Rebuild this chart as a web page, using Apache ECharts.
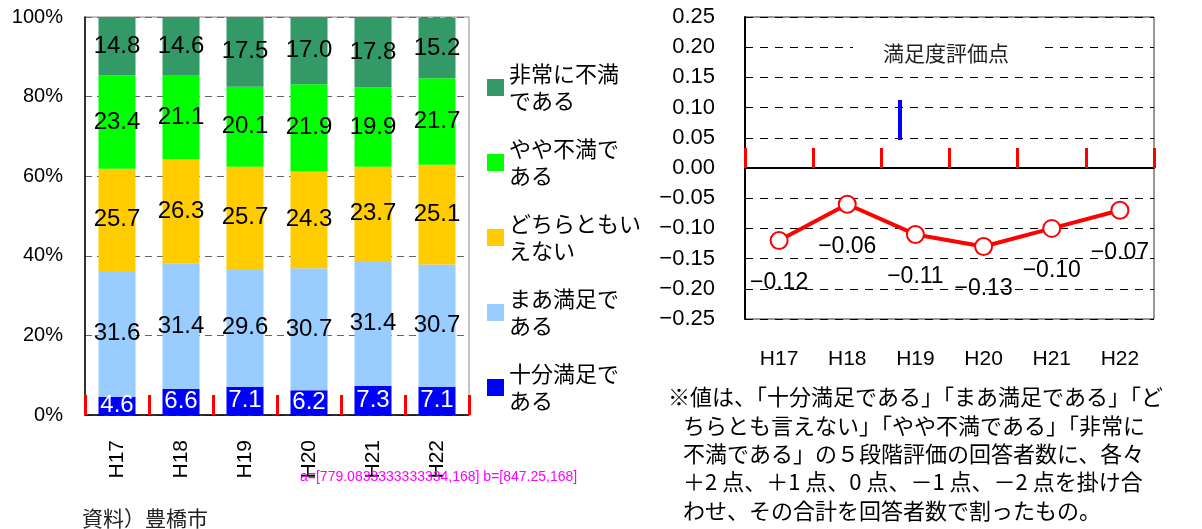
<!DOCTYPE html>
<html>
<head>
<meta charset="utf-8">
<script src="https://cdn.jsdelivr.net/npm/echarts@6/dist/echarts.min.js"></script>
<style>
  html, body { margin: 0; padding: 0; background: #fff; }
  #chart { width: 1202px; height: 529px; }
</style>
</head>
<body>
<div id="chart"></div>
<script>
// Survey years
const years = ['H17', 'H18', 'H19', 'H20', 'H21', 'H22'];

// Share of respondents (%) for each answer, per year
const fullySatisfied      = [4.6, 6.6, 7.1, 6.2, 7.3, 7.1];
const fairlySatisfied     = [31.6, 31.4, 29.6, 30.7, 31.4, 30.7];
const neutral             = [25.7, 26.3, 25.7, 24.3, 23.7, 25.1];
const somewhatUnsatisfied = [23.4, 21.1, 20.1, 21.9, 19.9, 21.7];
const veryUnsatisfied     = [14.8, 14.6, 17.5, 17.0, 17.8, 15.2];

// Satisfaction score per year
const scores = [-0.12, -0.06, -0.11, -0.13, -0.10, -0.07];

// Answer names (bottom of the stack first) and their legend wording
const answerNames = ['十分満足である', 'まあ満足である', 'どちらともいえない', 'やや不満である', '非常に不満である'];
const legendWrapped = {
  '非常に不満である': '非常に不満\nである',
  'やや不満である': 'やや不満で\nある',
  'どちらともいえない': 'どちらともい\nえない',
  'まあ満足である': 'まあ満足で\nある',
  '十分満足である': '十分満足で\nある'
};

const scoreTitle = '満足度評価点';
const sourceText = '資料）豊橋市';
const noteLines = [
  '※値は、「十分満足である」「まあ満足である」「ど',
  'ちらとも言えない」「やや不満である」「非常に',
  '不満である」の５段階評価の回答者数に、各々',
  '＋2 点、＋1 点、0 点、－1 点、－2 点を掛け合',
  'わせ、その合計を回答者数で割ったもの。'
];

const JP = "'Noto Sans CJK JP', sans-serif";
const NUM = "'Liberation Sans', 'Noto Sans CJK JP', sans-serif";

const answerValues = [fullySatisfied, fairlySatisfied, neutral, somewhatUnsatisfied, veryUnsatisfied];
const answerColors = ['#0000FF', '#99CCFF', '#FFCC00', '#00FF00', '#339966'];

function signed(v) {
  if (Math.abs(v) < 1e-9) v = 0;
  const s = Math.abs(v).toFixed(2);
  return v < 0 ? '\u2212' + s : s;
}

const barSeries = answerNames.map((name, i) => ({
  name: name,
  type: 'bar',
  stack: 'share',
  xAxisIndex: 0,
  yAxisIndex: 0,
  barWidth: 37,
  data: answerValues[i],
  itemStyle: { color: answerColors[i] },
  label: {
    show: true,
    position: 'inside',
    formatter: p => p.value.toFixed(1),
    fontSize: 24,
    fontFamily: NUM,
    color: i === 0 ? '#fff' : '#000'
  }
}));

const textGraphics = [
  {
    type: 'text', left: 82, top: 508,
    style: { text: sourceText, fontSize: 21, fontFamily: JP, fill: '#222' }
  }
].concat(noteLines.map((t, i) => ({
  type: 'text',
  left: i === 0 ? 668 : 683,
  top: 386 + i * 28.3,
  style: { text: t, fontSize: 22, fontFamily: JP, fill: '#000' }
})));

const chart = echarts.init(document.getElementById('chart'), null, { renderer: 'canvas' });
chart.setOption({
  animation: false,
  backgroundColor: '#fff',
  title: {
    text: scoreTitle,
    left: 853,
    top: 38,
    padding: [3, 30],
    backgroundColor: '#fff',
    textStyle: { fontSize: 21, fontWeight: 'normal', fontFamily: JP, color: '#222', lineHeight: 24 }
  },
  legend: {
    orient: 'vertical',
    left: 482,
    top: 42,
    itemWidth: 17,
    itemHeight: 17,
    itemGap: -6,
    icon: 'rect',
    selectedMode: false,
    data: answerNames.slice().reverse(),
    formatter: n => legendWrapped[n],
    textStyle: { fontSize: 22, lineHeight: 27, padding: [27, 0, 0, 0], fontFamily: JP, color: '#000' }
  },
  grid: [
    { left: 85, top: 17, width: 384, height: 398, show: true, borderColor: '#888', borderWidth: 1 },
    { left: 745, top: 17, width: 409, height: 302, show: true, borderColor: '#333', borderWidth: 1 }
  ],
  xAxis: [
    {
      gridIndex: 0, type: 'category', data: years,
      axisLine: { show: true, lineStyle: { color: '#000', width: 1.5 } },
      axisTick: { show: true, inside: true, length: 20, lineStyle: { color: '#f00', width: 3 } },
      axisLabel: { rotate: 90, margin: 25, fontSize: 21, fontFamily: NUM, color: '#000' }
    },
    {
      gridIndex: 1, type: 'category', data: years, position: 'top',
      axisLine: { show: true, onZero: true, lineStyle: { color: '#000', width: 2 } },
      axisTick: { show: true, length: 20, lineStyle: { color: '#f00', width: 3 } },
      axisLabel: { show: false }
    },
    {
      gridIndex: 1, type: 'category', data: years, position: 'bottom',
      axisLine: { show: false, onZero: false },
      axisTick: { show: false },
      axisLabel: { margin: 30, fontSize: 21, fontFamily: NUM, color: '#000' }
    }
  ],
  yAxis: [
    {
      gridIndex: 0, type: 'value', min: 0, max: 100, interval: 20,
      axisLine: { show: true, lineStyle: { color: '#000', width: 1.5 } },
      axisTick: { show: false },
      axisLabel: { formatter: '{value}%', fontSize: 20, margin: 22, fontFamily: NUM, color: '#000' },
      splitLine: { show: true, lineStyle: { color: '#666', type: [7, 5], width: 1.2 } }
    },
    {
      gridIndex: 1, type: 'value', min: -0.25, max: 0.25, interval: 0.05,
      axisLine: { show: true, lineStyle: { color: '#000', width: 2 } },
      axisTick: { show: false },
      axisLabel: { formatter: v => signed(v), fontSize: 22, margin: 30, fontFamily: NUM, color: '#000' },
      splitLine: { show: true, lineStyle: { color: '#000', type: [8, 7], width: 1 } }
    }
  ],
  graphic: textGraphics,
  series: barSeries.concat([
    {
      name: scoreTitle,
      type: 'line',
      xAxisIndex: 1,
      yAxisIndex: 1,
      data: scores,
      symbol: 'circle',
      symbolSize: 17,
      z: 5,
      lineStyle: { color: '#FF0000', width: 4 },
      itemStyle: { color: '#fff', borderColor: '#FF0000', borderWidth: 2 },
      label: {
        show: true,
        position: 'bottom',
        distance: 21,
        formatter: p => signed(p.value),
        fontSize: 23,
        fontFamily: NUM,
        color: '#000'
      }
    }
  ])
});

let info = '';
try {
  const finder = { xAxisIndex: 1, yAxisIndex: 1 };
  const a = chart.convertToPixel(finder, [0, 0]);
  const b = chart.convertToPixel({ gridIndex: 1 }, [1, 0]);
  info = 'a=' + JSON.stringify(a) + ' b=' + JSON.stringify(b);
} catch (e) {
  info = 'ERR ' + e.message;
}
chart.setOption({
  graphic: textGraphics.concat([
    { type: 'line', z: 100, shape: { x1: 900, y1: 100, x2: 900, y2: 140 }, style: { stroke: '#00f', lineWidth: 4 } },
    { type: 'text', left: 300, top: 470, z: 100, style: { text: info, fontSize: 14, fill: '#f0f' } }
  ])
});
</script>
</body>
</html>
